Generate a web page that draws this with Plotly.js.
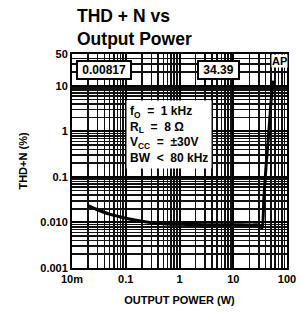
<!DOCTYPE html>
<html><head><meta charset="utf-8">
<script src="https://cdn.plot.ly/plotly-3.0.1.min.js"></script>
<style>html,body{margin:0;padding:0;background:#fff;}#c{width:300px;height:321px;}</style>
</head><body><div id="c"></div>
<script>
// Output power (W)
const power = [0.02, 0.03, 0.05, 0.1, 0.2, 0.3, 0.5, 1, 2, 5, 10, 20, 30, 34.4, 37, 41, 46, 50, 55];
// THD+N (%)
const thdn = [0.0235, 0.019, 0.0152, 0.0124, 0.0106, 0.0099, 0.0094, 0.0091, 0.009, 0.0089, 0.0089, 0.0088, 0.0088, 0.0074, 0.032, 0.19, 1.0, 4.0, 13];
const yTickVals = [0.001, 0.01, 0.1, 1, 10, 50];
const yTickText = ['0.001', '0.010', '0.1', '1', '10', '50'];
const xTickVals = [0.01, 0.1, 1, 10, 100];
const xTickText = ['10m', '0.1', '1', '10', '100'];

const F = 'Liberation Sans, Arial, sans-serif';
const L = 72, R = 287, T = 54, B = 268;
const px = x => (x - L) / (R - L);
const py = y => (B - y) / (B - T);

const trace = {x: power, y: thdn, type: 'scatter', mode: 'lines',
  line: {color: '#000', width: 3, shape: 'spline', smoothing: 0.6}, hoverinfo: 'skip'};

const layout = {
  width: 300, height: 321,
  margin: {l: L, r: 300 - R, t: T, b: 321 - B},
  paper_bgcolor: '#fff', plot_bgcolor: '#fff',
  showlegend: false,
  xaxis: {type: 'log', range: [-2, 2], tickvals: xTickVals, ticktext: xTickText,
    showgrid: true, gridcolor: '#000', gridwidth: 2,
    minor: {dtick: 'D1', showgrid: true, gridcolor: '#111', gridwidth: 1.6},
    showline: true, linecolor: '#000', linewidth: 2, mirror: true, ticks: '',
    tickfont: {family: F, size: 11, color: '#000', weight: 'bold'},
    title: {text: '<b>OUTPUT POWER (W)</b>', font: {family: F, size: 11, color: '#000'}, standoff: 12},
    automargin: false, zeroline: false},
  yaxis: {type: 'log', range: [-3, Math.log10(50)], tickvals: yTickVals, ticktext: yTickText,
    showgrid: true, gridcolor: '#000', gridwidth: 2,
    minor: {dtick: 'D1', showgrid: true, gridcolor: '#111', gridwidth: 1.6},
    showline: true, linecolor: '#000', linewidth: 2, mirror: true, ticks: '',
    tickfont: {family: F, size: 11, color: '#000', weight: 'bold'},
    title: {text: '<b>THD+N (%)</b>', font: {family: F, size: 11, color: '#000'}, standoff: 10},
    automargin: false, zeroline: false},
  annotations: [
    {text: '<b>THD + N vs<br>Output Power</b>', xref: 'paper', yref: 'paper', x: px(75), y: py(4),
      xanchor: 'left', yanchor: 'top', align: 'left', showarrow: false,
      font: {family: F, size: 17.5, color: '#000'}},
    {text: '<b>\u00a00.00817\u00a0</b>', xref: 'paper', yref: 'paper', x: px(104), y: py(69.5),
      xanchor: 'center', yanchor: 'middle', showarrow: false,
      font: {family: F, size: 12, color: '#000'}, bgcolor: '#fff', bordercolor: '#000', borderwidth: 2, borderpad: 1},
    {text: '<b>\u00a034.39\u00a0</b>', xref: 'paper', yref: 'paper', x: px(218.5), y: py(69.5),
      xanchor: 'center', yanchor: 'middle', showarrow: false,
      font: {family: F, size: 12, color: '#000'}, bgcolor: '#fff', bordercolor: '#000', borderwidth: 2, borderpad: 1},
    {text: '<b>AP</b>', xref: 'paper', yref: 'paper', x: px(279), y: py(61),
      xanchor: 'center', yanchor: 'middle', showarrow: false,
      font: {family: F, size: 11, color: '#000'}, bgcolor: '#fff', borderpad: 0},
    {text: '<b>f<sub>O</sub>  =  1 kHz<br>R<sub>L</sub>  =  8 Ω<br>V<sub>CC</sub>  =  ±30V<br>BW  &lt;  80 kHz</b>',
      xref: 'paper', yref: 'paper', x: px(168.5), y: py(134), xanchor: 'center', yanchor: 'middle',
      showarrow: false, align: 'left',
      font: {family: F, size: 12, color: '#000'}, bgcolor: '#fff', borderpad: 3}
  ]
};
Plotly.newPlot('c', [trace], layout, {displayModeBar: false, staticPlot: true});
</script></body></html>
